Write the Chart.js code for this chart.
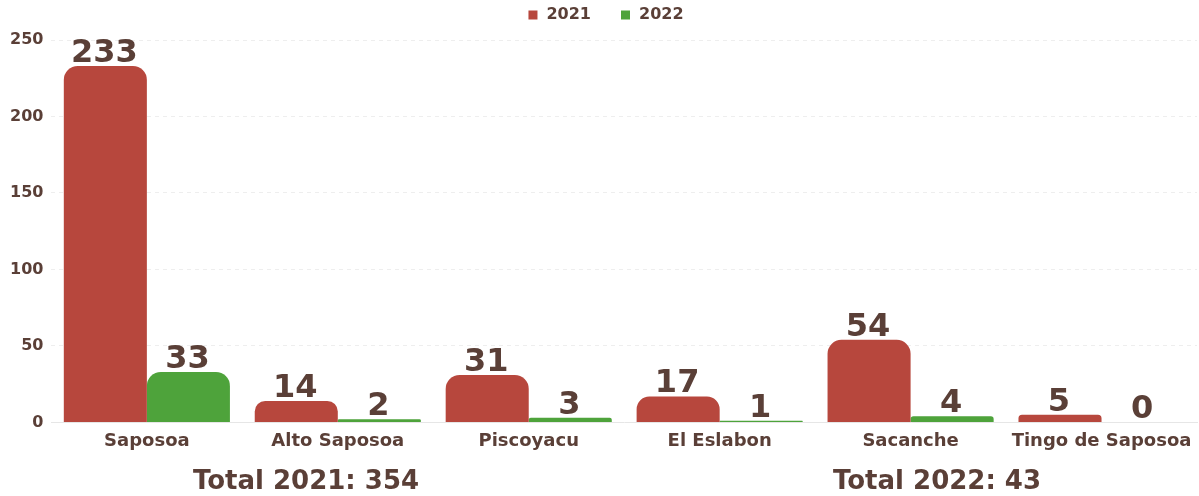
<!DOCTYPE html>
<html>
<head>
<meta charset="utf-8">
<script src="https://cdn.jsdelivr.net/npm/chart.js@4"></script>
<style>
  html, body { margin: 0; padding: 0; background: #fff; }
  #wrap { width: 1199px; height: 496px; }
</style>
</head>
<body>
<div id="wrap"><canvas id="chart"></canvas></div>
<script>
const categories = ['Saposoa', 'Alto Saposoa', 'Piscoyacu', 'El Eslabon', 'Sacanche', 'Tingo de Saposoa'];
const values2021 = [233, 14, 31, 17, 54, 5];
const values2022 = [33, 2, 3, 1, 4, 0];
const yTicks = [0, 50, 100, 150, 200, 250];

const color2021 = '#b7473d';
const color2022 = '#4ea33b';
const textColor = '#5a3f37';
const fontFamily = '"DejaVu Sans", Verdana, sans-serif';

const sum = arr => arr.reduce((a, b) => a + b, 0);

// numeros encima de cada barra
const valueLabels = {
    id: 'valueLabels',
    afterDatasetsDraw(chart) {
        const ctx = chart.ctx;
        ctx.save();
        ctx.font = 'bold 32px ' + fontFamily;
        ctx.fillStyle = textColor;
        ctx.textAlign = 'center';
        ctx.textBaseline = 'alphabetic';
        chart.data.datasets.forEach((ds, i) => {
            chart.getDatasetMeta(i).data.forEach((bar, j) => {
                ctx.fillText(String(ds.data[j]), bar.x - 1, bar.y - 4);
            });
        });
        ctx.restore();
    }
};

// leyenda propia (la del plugin deja muy poco espacio entre items)
const topLegend = {
    id: 'topLegend',
    afterDraw(chart) {
        const ctx = chart.ctx;
        const items = chart.data.datasets.map(ds => ({ text: ds.label, color: ds.backgroundColor }));
        ctx.save();
        ctx.font = 'bold 16px ' + fontFamily;
        ctx.textBaseline = 'middle';
        ctx.textAlign = 'left';
        const box = 9, gap = 9, itemGap = 30;
        const widths = items.map(it => box + gap + ctx.measureText(it.text).width);
        const total = widths.reduce((a, b) => a + b, 0) + itemGap * (items.length - 1);
        let x = 606 - total / 2;
        const y = 15;
        items.forEach((it, k) => {
            ctx.fillStyle = it.color;
            ctx.fillRect(x, y - box / 2, box, box);
            ctx.fillStyle = textColor;
            ctx.fillText(it.text, x + box + gap, y);
            x += widths[k] + itemGap;
        });
        ctx.restore();
    }
};

// totales debajo del eje x
const totals = {
    id: 'totals',
    afterDraw(chart) {
        const ctx = chart.ctx;
        ctx.save();
        ctx.font = 'bold 26px ' + fontFamily;
        ctx.fillStyle = textColor;
        ctx.textAlign = 'center';
        ctx.textBaseline = 'middle';
        ctx.fillText('Total 2021: ' + sum(values2021), 306, 482);
        ctx.fillText('Total 2022: ' + sum(values2022), 937, 482);
        ctx.restore();
    }
};

new Chart(document.getElementById('chart'), {
    type: 'bar',
    data: {
        labels: categories,
        datasets: [
            {
                label: '2021',
                data: values2021,
                backgroundColor: color2021,
                borderRadius: { topLeft: 14, topRight: 14 },
                borderSkipped: 'bottom'
            },
            {
                label: '2022',
                data: values2022,
                backgroundColor: color2022,
                borderRadius: { topLeft: 14, topRight: 14 },
                borderSkipped: 'bottom'
            }
        ]
    },
    options: {
        responsive: true,
        maintainAspectRatio: false,
        animation: false,
        categoryPercentage: 0.87,
        barPercentage: 1.0,
        layout: { padding: { top: 40, right: 2, bottom: 44, left: 2 } },
        plugins: {
            legend: { display: false },
            tooltip: { enabled: false }
        },
        scales: {
            x: {
                grid: { display: false },
                border: { color: '#e6e6e6' },
                ticks: {
                    color: textColor,
                    font: { family: fontFamily, size: 18, weight: 'bold' },
                    maxRotation: 0,
                    padding: 0
                }
            },
            y: {
                min: 0,
                max: 250,
                afterBuildTicks(axis) {
                    axis.ticks = yTicks.map(v => ({ value: v }));
                },
                grid: { color: '#eeeeee', drawTicks: false },
                border: { display: false, dash: [4, 4] },
                ticks: {
                    color: textColor,
                    font: { family: fontFamily, size: 16, weight: 'bold' },
                    padding: 8
                }
            }
        }
    },
    plugins: [valueLabels, topLegend, totals]
});
</script>
</body>
</html>
